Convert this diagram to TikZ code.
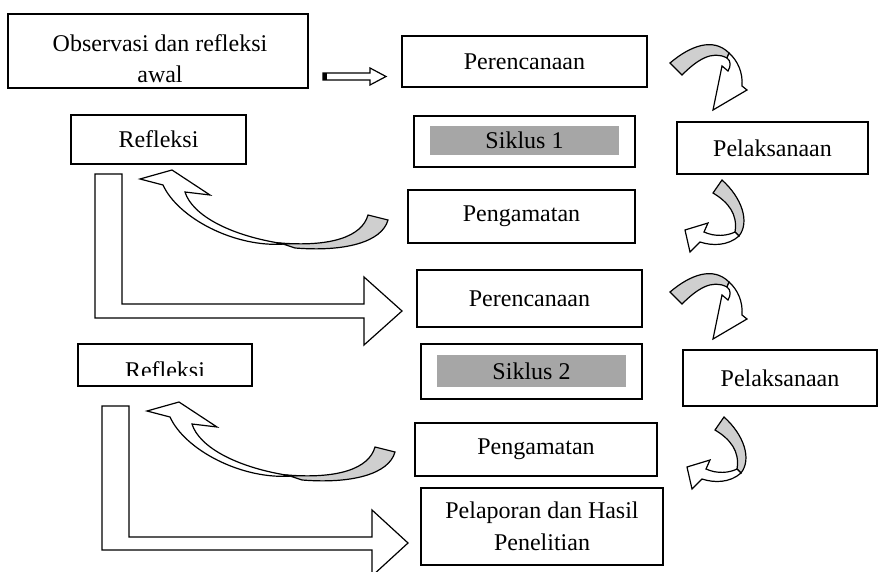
\documentclass[tikz,border=0pt]{standalone}
\usepackage{fontspec}
\setmainfont{Liberation Serif}
\begin{document}
\begin{tikzpicture}[
        x=0.5pt, y=-0.5pt, % satu satuan = satu piksel gambar
        teks/.style={align=center, font=\fontsize{12}{14}\selectfont, inner sep=0pt},
        kotak/.style={draw, line width=0.75pt, inner sep=0pt, outer sep=0pt, align=center, font=\fontsize{12}{14}\selectfont}, % kotak tahapan
        abu/.style={fill=black!35, inner sep=0pt, font=\fontsize{12}{14}\selectfont}, % latar siklus
        panah/.style={draw, line width=0.6pt, fill=white, line join=miter}, % panah blok
        pita/.style={draw, line width=0.6pt, fill=black!19}, % sisi belakang panah lengkung
    ]
    \useasboundingbox (0,0) rectangle (878,572);
    \clip (0,0) rectangle (878,572);

    % kotak-kotak tahapan
    \node[kotak, minimum width=150pt, minimum height=37pt] (obs) at (158,51) {};
    \node[teks] (obstxt) at (160,59) {Observasi dan refleksi\\[1.5pt]awal};

    \node[kotak, minimum width=122.5pt, minimum height=25.5pt] (ren1) at (524.5,61.5) {Perencanaan};
    \node[kotak, minimum width=110.5pt, minimum height=25.5pt] (sik1) at (524.5,141.5) {};
    \node[abu, minimum width=94.5pt, minimum height=14.5pt] (sik1txt) at (524.5,140.5) {Siklus 1};
    \node[kotak, minimum width=95.5pt, minimum height=26pt] (pel1) at (772.5,148) {Pelaksanaan};
    \node[kotak, minimum width=113.5pt, minimum height=26.5pt] (pen1) at (521.5,216.5) {Pengamatan};
    \node[kotak, minimum width=87.5pt, minimum height=24.5pt] (ref1) at (158.5,139.5) {Refleksi};

    \node[kotak, minimum width=112.5pt, minimum height=28.5pt] (ren2) at (529.5,298.5) {Perencanaan};
    \node[kotak, minimum width=110.5pt, minimum height=27.5pt] (sik2) at (531.5,371.5) {};
    \node[abu, minimum width=94.5pt, minimum height=16pt] (sik2txt) at (531.5,371) {Siklus 2};
    \node[kotak, minimum width=97pt, minimum height=28pt] (pel2) at (780,378) {Pelaksanaan};
    \node[kotak, minimum width=121pt, minimum height=26.5pt] (pen2) at (536,449.5) {Pengamatan};
    \node[kotak, minimum width=121pt, minimum height=38.5pt, font=\fontsize{12}{16}\selectfont] (lap) at (542,526.5) {Pelaporan dan Hasil\\Penelitian};
    \node[kotak, minimum width=87pt, minimum height=21pt] (ref2) at (165,365) {};
    \begin{scope}
        \clip (78,344) rectangle (252,375);
        \node[teks] (ref2txt) at (165,370) {Refleksi};
    \end{scope}

    % panah lurus kecil
    \draw[panah] (323,73) -- (370,73) -- (370,68) -- (386,76.5) -- (370,85) -- (370,80) -- (323,80) -- cycle;
    \fill (323,73) rectangle (327,80);

    % panah siku
    \draw[panah] (95,174) -- (122,174) -- (122,304) -- (364,304) -- (364,277) -- (402,311) -- (364,345) -- (364,318) -- (95,318) -- cycle;
    \draw[panah] (102,406) -- (129,406) -- (129,537) -- (372,537) -- (372,510) -- (408,543) -- (372,576) -- (372,550) -- (102,550) -- cycle;

    % panah lengkung Perencanaan -> Pelaksanaan
    \foreach \dy in {0,229} {
        \begin{scope}[shift={(0,\dy)}]
            \draw[pita] (670,63) .. controls (690,46) and (713,37) .. (729,53) -- (727,58) .. controls (712,50) and (697,60) .. (682,75) -- cycle;
            \draw[panah] (729,53) .. controls (738,61) and (743,73) .. (742,86) -- (747,90) -- (713,110) -- (722,66) -- (728,71) .. controls (731,66) and (731,61) .. (727,58) -- cycle;
        \end{scope}
    }

    % panah lengkung Pelaksanaan -> Pengamatan
    \foreach \dx/\dy in {0/0,2/237} {
        \begin{scope}[shift={(\dx,\dy)}]
            \draw[pita] (722,180) .. controls (742,198) and (750,222) .. (739,236) -- (735,232) .. controls (738,214) and (728,202) .. (713,193) -- cycle;
            \draw[panah] (739,236) .. controls (728,246) and (712,246) .. (700,242) -- (690,252) -- (685,230) -- (708,223) -- (704,232) .. controls (715,237) and (727,236) .. (735,232) -- cycle;
        \end{scope}
    }

    % panah lengkung Pengamatan -> Refleksi
    \foreach \dx/\dy in {0/0,7/232} {
        \begin{scope}[shift={(\dx,\dy)}]
            \draw[pita] (368,215) -- (388,220) .. controls (382,242) and (345,252) .. (295,248) -- (280,243) .. controls (330,247) and (362,237) .. (368,215) -- cycle;
            \draw[panah] (163,185) -- (140,179) -- (172,170) -- (210,195) -- (185,192) .. controls (192,215) and (230,236) .. (285,244) .. controls (235,248) and (178,218) .. (163,185) -- cycle;
        \end{scope}
    }
\end{tikzpicture}
\end{document}
